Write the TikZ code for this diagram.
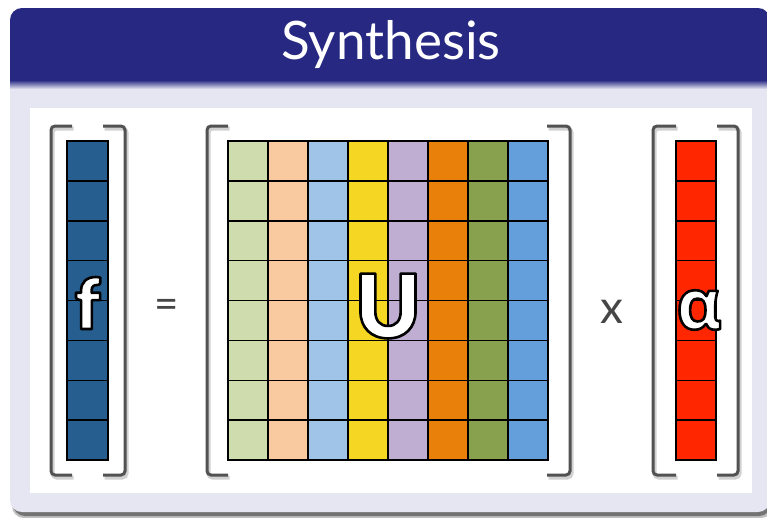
\documentclass[tikz,border=0pt]{standalone}
\usepackage{fontspec}
\setmainfont{Lato}
\setsansfont{Lato}
\newfontfamily\alphafont{Open Sans}
\newfontfamily\heavyfont{Lato Black}
\newcommand{\outlined}[1]{\special{pdf:code 2 Tr 0 0 0 RG 2.6 w 1 j}#1\special{pdf:code 0 Tr}}
\definecolor{titleblue}{RGB}{38,40,130}
\definecolor{lav}{RGB}{230,230,242}
\definecolor{fblue}{RGB}{38,95,143}
\definecolor{ca}{RGB}{207,220,174}
\definecolor{cb}{RGB}{249,202,160}
\definecolor{cc}{RGB}{160,196,232}
\definecolor{cd}{RGB}{245,214,35}
\definecolor{ce}{RGB}{191,173,210}
\definecolor{cf}{RGB}{232,128,10}
\definecolor{cg}{RGB}{136,161,78}
\definecolor{ch}{RGB}{100,159,220}
\definecolor{alphared}{RGB}{255,38,0}
\definecolor{opgray}{RGB}{70,70,70}
\begin{document}
\begin{tikzpicture}[x=1pt,y=-1pt,
  cell/.style={draw=black,line width=1.5pt},
  brk/.style={draw=black!68,line width=3pt,rounded corners=4pt},
  brkshadow/.style={draw=black!18,line width=4pt,rounded corners=4pt},
  bigletter/.style={text=white,inner sep=0pt},
  oper/.style={text=opgray,inner sep=0pt}]
\useasboundingbox (0,0) rectangle (767,517);
% box shadow
\fill[black!25, rounded corners=12pt] (12,11) rectangle (773,518);
\fill[black!55, rounded corners=12pt] (13,12) rectangle (771,516);
% box
\fill[lav, rounded corners=12pt] (10,8) rectangle (770,512);
\begin{scope}
  \clip[rounded corners=12pt] (10,8) rectangle (770,512);
  \fill[titleblue] (10,8) rectangle (770,80.5);
  \shade[top color=titleblue, bottom color=lav] (10,80) rectangle (770,89);
\end{scope}
\fill[white] (30,108) rectangle (752,493);
\node[text=white, font=\fontsize{53}{60}\selectfont] (title) at (391,45) {Synthesis};
% f column
\foreach \r in {0,...,7}
  \draw[cell, fill=fblue] (67,141+39.875*\r) rectangle (108,141+39.875*\r+39.875);
% U matrix
\foreach \c/\col in {0/ca,1/cb,2/cc,3/cd,4/ce,5/cf,6/cg,7/ch}
  \foreach \r in {0,...,7}
    \draw[cell, fill=\col] (228+40*\c,141+39.875*\r) rectangle (268+40*\c,141+39.875*\r+39.875);
% alpha column
\foreach \r in {0,...,7}
  \draw[cell, fill=alphared] (676,141+39.875*\r) rectangle (716,141+39.875*\r+39.875);
% brackets
\foreach \dx/\dy/\s in {1.5/2.5/brkshadow,0/0/brk}{
  \begin{scope}[shift={(\dx,\dy)}]
  \draw[\s] (72,126) -- (51,126) -- (51,475) -- (72,475);
  \draw[\s] (103,126) -- (125,126) -- (125,475) -- (103,475);
  \draw[\s] (228,126) -- (207,126) -- (207,475) -- (228,475);
  \draw[\s] (547,126) -- (570,126) -- (570,475) -- (547,475);
  \draw[\s] (676,126) -- (653,126) -- (653,475) -- (676,475);
  \draw[\s] (717,126) -- (738,126) -- (738,475) -- (717,475);
  \end{scope}}
% labels
\node[bigletter, font=\heavyfont\fontsize{70}{72}\selectfont] (f) at (87.5,303) {\outlined{f}};
\node[bigletter, font=\heavyfont\fontsize{88}{90}\selectfont] (U) at (388,306) {\outlined{U}};
\node[bigletter, font=\alphafont\fontsize{70}{72}\selectfont\bfseries] (alpha) at (699,310) {\outlined{α}};
\node[oper, font=\fontsize{42}{44}\selectfont] (eq) at (167,309) {=};
\node[oper, font=\fontsize{46}{48}\selectfont] (times) at (612,312) {x};
\end{tikzpicture}
\end{document}
